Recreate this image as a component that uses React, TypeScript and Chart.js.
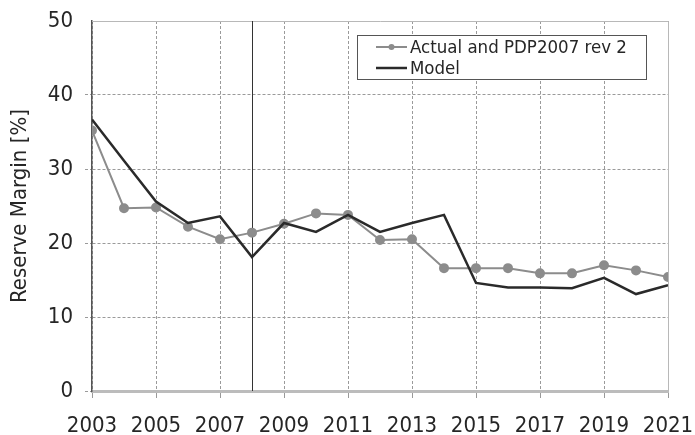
import React, { useEffect, useRef } from "react";
import { Chart, registerables } from "chart.js";

Chart.register(...registerables);

const years = [2003, 2004, 2005, 2006, 2007, 2008, 2009, 2010, 2011, 2012, 2013, 2014, 2015, 2016, 2017, 2018, 2019, 2020, 2021];
const actualValues = [35.2, 24.7, 24.8, 22.2, 20.5, 21.4, 22.6, 24.0, 23.8, 20.4, 20.5, 16.6, 16.6, 16.6, 15.9, 15.9, 17.0, 16.3, 15.4];
const modelValues = [36.7, 31.1, 25.6, 22.7, 23.6, 18.1, 22.7, 21.5, 23.8, 21.5, 22.7, 23.8, 14.6, 14.0, 14.0, 13.9, 15.3, 13.1, 14.3];
const markerYear = 2008;
const seriesLabels = ["Actual and PDP2007 rev 2", "Model"];
const yTitle = "Reserve Margin [%]";

const FONT = "'DejaVu Sans Condensed', 'DejaVu Sans', sans-serif";
const TEXT = "#262626";

const framePlugin = {
  id: "frame",
  beforeDatasetsDraw(chart: any) {
    const { ctx, chartArea, scales } = chart;
    ctx.save();
    ctx.strokeStyle = "#b8b8b8";
    ctx.lineWidth = 1;
    ctx.beginPath();
    ctx.moveTo(chartArea.left, chartArea.top + 0.5);
    ctx.lineTo(chartArea.right + 0.5, chartArea.top + 0.5);
    ctx.lineTo(chartArea.right + 0.5, chartArea.bottom);
    ctx.stroke();
    const x = Math.round(scales.x.getPixelForValue(markerYear)) + 0.5;
    ctx.strokeStyle = "#333";
    ctx.lineWidth = 1;
    ctx.beginPath();
    ctx.moveTo(x, chartArea.top);
    ctx.lineTo(x, chartArea.bottom);
    ctx.stroke();
    ctx.restore();
  },
  afterDraw(chart: any) {
    const { ctx } = chart;
    const ds = chart.data.datasets;
    const items = [ds[0], ds[1]];
    const bx = 357, by = 35, bw = 289, bh = 44;
    ctx.save();
    ctx.fillStyle = "#fff";
    ctx.fillRect(bx, by, bw, bh);
    ctx.strokeStyle = "#555";
    ctx.lineWidth = 1;
    ctx.strokeRect(bx + 0.5, by + 0.5, bw, bh);
    items.forEach((d: any, i: number) => {
      const y = by + 12 + i * 21;
      ctx.strokeStyle = d.borderColor;
      ctx.lineWidth = d.borderWidth;
      ctx.beginPath();
      ctx.moveTo(376, y);
      ctx.lineTo(407, y);
      ctx.stroke();
      if (d.pointRadius > 0) {
        ctx.fillStyle = d.pointBackgroundColor;
        ctx.beginPath();
        ctx.arc(391.5, y, 3, 0, Math.PI * 2);
        ctx.fill();
      }
      ctx.fillStyle = TEXT;
      ctx.font = `18.5px ${FONT}`;
      ctx.textBaseline = "middle";
      ctx.textAlign = "left";
      ctx.fillText(d.label, 410, y + 1);
    });
    ctx.restore();
  },
};

export default function App() {
  const ref = useRef<HTMLCanvasElement | null>(null);
  useEffect(() => {
    if (!ref.current) return;
    const chart = new Chart(ref.current, {
      type: "line",
      data: {
        datasets: [
          {
            label: seriesLabels[0],
            data: years.map((y, i) => ({ x: y, y: actualValues[i] })),
            borderColor: "#8c8c8c",
            backgroundColor: "#8c8c8c",
            pointBackgroundColor: "#8c8c8c",
            pointBorderColor: "#8c8c8c",
            borderWidth: 2,
            pointRadius: 4,
            tension: 0,
            order: 1,
          },
          {
            label: seriesLabels[1],
            data: years.map((y, i) => ({ x: y, y: modelValues[i] })),
            borderColor: "#2a2a2a",
            backgroundColor: "#2a2a2a",
            pointBackgroundColor: "#2a2a2a",
            borderWidth: 2.5,
            pointRadius: 0,
            tension: 0,
            order: 0,
          },
        ],
      },
      options: {
        animation: false,
        responsive: true,
        maintainAspectRatio: false,
        layout: { padding: { left: 0, right: 27, top: 21, bottom: 0 } },
        plugins: { legend: { display: false }, tooltip: { enabled: false } },
        scales: {
          x: {
            type: "linear",
            min: 2003,
            max: 2021,
            afterFit: (s: any) => {
              s.height = 44;
              s.paddingLeft = 0;
              s.paddingRight = 0;
            },
            ticks: {
              stepSize: 2,
              autoSkip: false,
              maxRotation: 0,
              padding: 15,
              color: TEXT,
              font: { family: FONT, size: 22 },
              callback: (v: any) => String(v),
            },
            grid: {
              color: "#9a9a9a",
              lineWidth: 1,
              tickLength: 7,
              tickColor: "#999",
              tickBorderDash: [],
            },
            border: { display: true, color: "#bcbcbc", width: 3, dash: [3, 2] },
          },
          y: {
            min: 0,
            max: 50,
            afterFit: (s: any) => {
              s.width = 92;
              s.paddingTop = 0;
              s.paddingBottom = 0;
            },
            ticks: {
              stepSize: 10,
              padding: 12,
              color: TEXT,
              font: { family: FONT, size: 22 },
            },
            grid: {
              color: (c: any) => (c.tick && c.tick.value === 50 ? "rgba(0,0,0,0)" : "#9a9a9a"),
              lineWidth: 1,
              tickLength: 7,
              tickBorderDash: [3, 2],
            },
            border: { display: true, color: "#555", width: 1.5, dash: [3, 2] },
            title: {
              display: true,
              text: yTitle,
              color: TEXT,
              font: { family: FONT, size: 22 },
              padding: { top: 7, bottom: 0 },
            },
          },
        },
      },
      plugins: [framePlugin],
    });
    return () => chart.destroy();
  }, []);
  return (
    <div style={{ position: "fixed", left: 0, top: 0, width: 695, height: 435, background: "#fff" }}>
      <canvas ref={ref} />
    </div>
  );
}
